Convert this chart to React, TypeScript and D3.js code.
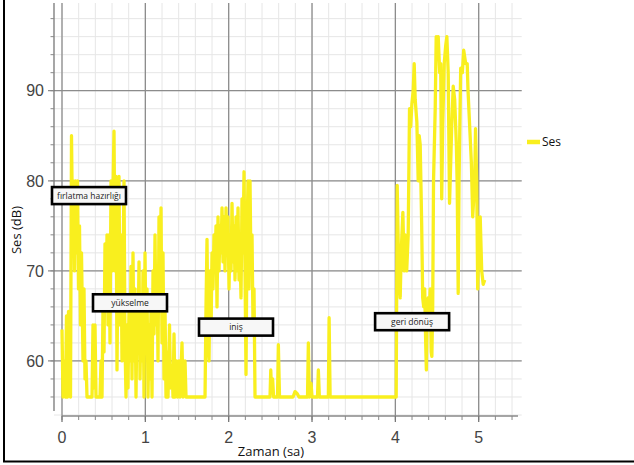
import React from "react";
import * as d3 from "d3";

// ---- data (time in hours, sound level in dB) ----
const times: number[] = [
  0.0, 0.012, 0.03, 0.042, 0.054, 0.066, 0.078, 0.09, 0.102, 0.114, 0.126, 0.138, 0.15, 0.162, 0.174, 0.186,
  0.198, 0.21, 0.222, 0.234, 0.252, 0.264, 0.276, 0.288, 0.3, 0.36, 0.372, 0.384, 0.396, 0.408, 0.456, 0.468,
  0.48, 0.492, 0.504, 0.516, 0.528, 0.54, 0.552, 0.564, 0.576, 0.588, 0.6, 0.612, 0.624, 0.636, 0.648, 0.66,
  0.672, 0.684, 0.696, 0.708, 0.72, 0.732, 0.744, 0.756, 0.768, 0.78, 0.792, 0.804, 0.816, 0.828, 0.84, 0.852,
  0.864, 0.876, 0.888, 0.9, 0.912, 0.924, 0.936, 0.948, 0.96, 0.972, 0.984, 0.996, 1.008, 1.02, 1.032, 1.044,
  1.056, 1.068, 1.08, 1.092, 1.104, 1.116, 1.128, 1.14, 1.152, 1.164, 1.176, 1.188, 1.2, 1.212, 1.224, 1.236,
  1.248, 1.26, 1.272, 1.29, 1.302, 1.32, 1.332, 1.344, 1.356, 1.374, 1.386, 1.404, 1.416, 1.44, 1.452, 1.476,
  1.488, 1.716, 1.728, 1.74, 1.752, 1.764, 1.776, 1.788, 1.8, 1.812, 1.824, 1.836, 1.848, 1.86, 1.872, 1.884,
  1.896, 1.908, 1.92, 1.932, 1.944, 1.956, 1.968, 1.98, 1.992, 2.004, 2.016, 2.028, 2.04, 2.052, 2.064, 2.076,
  2.088, 2.1, 2.112, 2.124, 2.136, 2.148, 2.16, 2.172, 2.184, 2.196, 2.208, 2.22, 2.232, 2.244, 2.256, 2.268,
  2.28, 2.292, 2.304, 2.316, 2.496, 2.505, 2.515, 2.527, 2.539, 2.586, 2.596, 2.61, 2.772, 2.796, 2.82, 2.844,
  2.946, 2.956, 2.968, 2.988, 3.0, 3.066, 3.076, 3.088, 3.196, 3.205, 3.217, 4.01, 4.022, 4.04, 4.058, 4.07,
  4.09, 4.106, 4.118, 4.136, 4.154, 4.17, 4.184, 4.198, 4.214, 4.226, 4.238, 4.258, 4.274, 4.286, 4.298, 4.316,
  4.328, 4.34, 4.352, 4.364, 4.372, 4.382, 4.394, 4.406, 4.418, 4.43, 4.438, 4.448, 4.458, 4.478, 4.49, 4.502,
  4.514, 4.532, 4.544, 4.556, 4.568, 4.586, 4.604, 4.618, 4.634, 4.65, 4.664, 4.676, 4.694, 4.712, 4.732, 4.742,
  4.754, 4.764, 4.784, 4.804, 4.82, 4.844, 4.862, 4.872, 4.892, 4.912, 4.928, 4.952, 4.962, 4.976, 4.988, 5.006,
  5.018, 5.036, 5.054, 5.072,
];

const levels: number[] = [
  63.5, 56, 60, 56, 65, 56, 65.5, 62, 56, 85, 75, 80, 70, 80, 72, 80,
  68, 75, 64, 72, 60, 68, 58, 60, 56, 56, 64, 57, 64, 56, 56, 60,
  56, 66, 61, 73, 66, 74, 64, 74, 62, 80, 70, 79, 85.5, 70, 80.5, 59,
  72, 80.5, 64, 74, 60, 70, 80, 62, 56, 64, 57, 66, 60, 70.5, 58, 72,
  60, 68, 56, 66, 62, 71, 58, 66, 60, 70, 56, 72, 62, 68, 56, 64,
  58, 66, 56, 70, 63, 74, 64, 70, 60, 76, 66, 77, 62, 72, 58, 66,
  56, 61, 56, 64, 57, 59.5, 56, 63, 56, 60, 56, 60, 56, 62, 56, 60,
  56, 56, 66, 73.5, 62, 60, 70, 63, 72, 68, 74, 70, 75, 66, 76, 70,
  75, 72, 77, 71, 76, 70, 77, 72, 76, 68, 74, 70, 77.5, 71, 75, 69,
  76, 70, 77, 69, 72, 67, 78, 72, 81, 70, 58.5, 74, 80, 68, 80, 70,
  74, 64, 68, 56, 56, 59, 56.5, 58, 56, 56, 61.8, 56, 56, 56.6, 56.4, 56,
  56, 62, 56, 57.5, 56, 56, 59, 56, 56, 64.8, 56, 56, 79.5, 70, 67, 72,
  76.5, 70, 74, 70, 74, 88, 86, 88.5, 90, 93, 89, 86.5, 80, 85, 84, 75,
  67, 66, 68, 62, 59, 66, 67, 65, 68, 61, 60.5, 66, 80, 88, 96, 95,
  96, 92, 93, 78, 86, 93, 95, 96, 92, 77.5, 82, 86, 90.5, 89, 84, 79.5,
  67.5, 80, 92.5, 92, 94.5, 93, 93, 90, 86, 82, 76, 80, 85.8, 80, 68, 74,
  76, 70, 68.5, 69, 68.5, 69,
];

const seriesName = "Ses";
const xTicks: number[] = [0, 1, 2, 3, 4, 5];
const yTicks: number[] = [60, 70, 80, 90];
const xTitle = "Zaman (sa)";
const yTitle = "Ses (dB)";

const annotationLabels: string[] = ["fırlatma hazırlığı", "yükselme", "iniş", "geri dönüş"];
const annotationT: number[] = [-0.12, 0.372, 1.644, 3.757];
const annotationDb: number[] = [79.3, 67.4, 64.7, 65.3];

export default function App() {
  const W = 634;
  const H = 465;
  const x = d3.scaleLinear().domain([0, 5]).range([62, 478.7]);
  const y = d3.scaleLinear().domain([54, 90]).range([415, 90.7]);
  const gridTop = 3;
  const gridLeft = 54;
  const gridRight = 521.7;
  const axisY = 416;

  const data = times.map((t, i) => [t, levels[i]] as [number, number]);
  const line = d3
    .line<[number, number]>()
    .x((d) => x(d[0]))
    .y((d) => y(d[1]));

  const minorX = d3.range(0, 5.55, 0.2);
  const minorY = d3.range(54, 100, 2);
  const xAxisTicks = d3.range(0, 5.45, 0.2);
  const yAxisTicks = d3.range(56, 100, 2);

  const yellow = "#f9ef1e";
  const majorGrid = "#8c8c8c";
  const minorGrid = "#e6e6e6";

  return (
    <svg
      width={W}
      height={H}
      style={{ position: "absolute", left: 0, top: 0, background: "#fff" }}
      fontFamily="'Open Sans', sans-serif"
    >
      {/* minor grid */}
      {minorX.map((t, i) => (
        <line key={"mx" + i} x1={x(t)} x2={x(t)} y1={gridTop} y2={axisY} stroke={minorGrid} strokeWidth={1} />
      ))}
      {minorY.map((v, i) => (
        <line key={"my" + i} x1={gridLeft} x2={gridRight} y1={y(v)} y2={y(v)} stroke={minorGrid} strokeWidth={1} />
      ))}
      {/* major grid */}
      {xTicks.map((t) => (
        <line key={"Mx" + t} x1={x(t)} x2={x(t)} y1={gridTop} y2={axisY} stroke={majorGrid} strokeWidth={1.3} />
      ))}
      {yTicks.map((v) => (
        <line key={"My" + v} x1={48} x2={gridRight} y1={y(v)} y2={y(v)} stroke={majorGrid} strokeWidth={1.3} />
      ))}

      {/* y axis */}
      <line x1={gridLeft} x2={gridLeft} y1={gridTop} y2={411} stroke="#777" strokeWidth={1.3} />
      {yAxisTicks.map((v, i) => (
        <line key={"yt" + i} x1={50.5} x2={gridLeft} y1={y(v)} y2={y(v)} stroke="#888" strokeWidth={1} />
      ))}
      {yTicks.map((v) => (
        <text key={"yl" + v} x={44} y={y(v)} dy="0.36em" textAnchor="end" fontSize={16}
          fontFamily="'Liberation Sans', Arial, sans-serif" fill="#444">
          {v}
        </text>
      ))}

      {/* x axis */}
      <line x1={x(0)} x2={518} y1={axisY} y2={axisY} stroke="#888" strokeWidth={1.3} />
      {xAxisTicks.map((t, i) => (
        <line key={"xt" + i} x1={x(t)} x2={x(t)} y1={axisY} y2={axisY + 4} stroke="#888" strokeWidth={1} />
      ))}
      {xTicks.map((t) => (
        <line key={"xM" + t} x1={x(t)} x2={x(t)} y1={axisY} y2={axisY + 6} stroke="#777" strokeWidth={1.3} />
      ))}
      {xTicks.map((t) => (
        <text key={"xl" + t} x={x(t)} y={443} textAnchor="middle" fontSize={16}
          fontFamily="'Liberation Sans', Arial, sans-serif" fill="#444">
          {t}
        </text>
      ))}

      {/* series */}
      <path d={line(data) || ""} fill="none" stroke={yellow} strokeWidth={3.3} strokeLinejoin="round" />

      {/* annotations */}
      {annotationLabels.map((lab, i) => {
        const bx = x(annotationT[i]);
        const by = y(annotationDb[i]);
        return (
          <g key={"an" + i}>
            <rect x={bx} y={by} width={74} height={17} fill="#f7f7f7" stroke="#000" strokeWidth={2.6} />
            <text x={bx + 37} y={by + 8.5} dy="0.35em" textAnchor="middle" fontSize={8.5} fill="#222">
              {lab}
            </text>
          </g>
        );
      })}

      {/* legend */}
      <line x1={527} x2={540} y1={142} y2={142} stroke={yellow} strokeWidth={4.5} />
      <text x={542} y={142} dy="0.35em" fontSize={12} fill="#111">{seriesName}</text>

      {/* axis titles */}
      <text x={271} y={456} textAnchor="middle" fontSize={13} fill="#111">{xTitle}</text>
      <text transform="translate(21,230) rotate(-90)" textAnchor="middle" fontSize={13} fill="#111">{yTitle}</text>

      {/* frame */}
      <line x1={4} x2={4} y1={0} y2={462} stroke="#000" strokeWidth={2} />
      <line x1={3} x2={634} y1={461.5} y2={461.5} stroke="#000" strokeWidth={2} />
    </svg>
  );
}
